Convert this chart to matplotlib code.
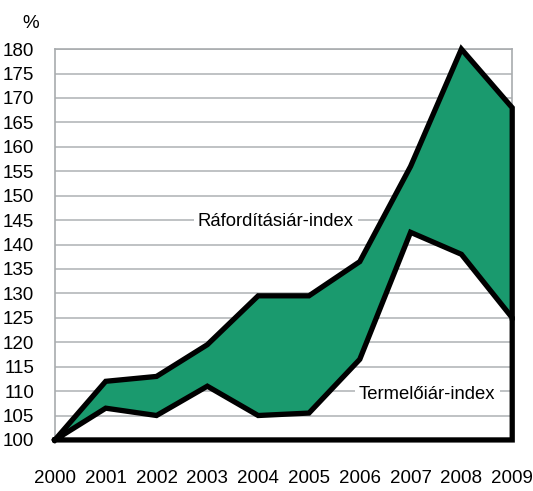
import matplotlib.pyplot as plt
import numpy as np

plt.rcParams['font.family'] = ['Liberation Sans', 'DejaVu Sans']

years = [2000, 2001, 2002, 2003, 2004, 2005, 2006, 2007, 2008, 2009]
raforditasi = [100, 112, 113, 119.5, 129.5, 129.5, 136.5, 156, 180, 168]
termeloi = [100, 106.5, 105, 111, 105, 105.5, 116.5, 142.5, 138, 125]
yticks = list(range(100, 181, 5))

green = '#1a9a6e'
fig = plt.figure(figsize=(5.33, 4.91), dpi=100)
ax = fig.add_axes([0.103, 0.104, 0.858, 0.796])

x = np.array(years)
up = np.array(raforditasi)
lo = np.array(termeloi)

ax.fill_between(x, lo, up, color=green, zorder=2)
lw = 3.8
# outline of upper (green) area
ax.plot(np.r_[x, x[-1]], np.r_[up, lo[-1]], color='black', lw=lw, zorder=3,
        solid_joinstyle='miter', clip_on=False)
# outline of lower (white) area
ax.plot(np.r_[x, x[-1], x[0]], np.r_[lo, 100, 100], color='black', lw=lw,
        zorder=3, solid_joinstyle='miter', clip_on=False)

ax.set_xlim(2000, 2009)
ax.set_ylim(100, 180)
ax.set_yticks(yticks)
ax.set_xticks(years)
ax.grid(axis='y', color='#b4b7ba', lw=1.2, zorder=1)
ax.tick_params(length=0, labelsize=13.5)
ax.tick_params(axis='x', pad=22)
ax.tick_params(axis='y', pad=15)
for s in ax.spines.values():
    s.set_color('#a8abae')
    s.set_linewidth(1.2)

bbox = dict(facecolor='white', edgecolor='none', pad=3)
ax.text(2004.35, 144.8, 'Ráfordításiár-index', ha='center', va='center',
        fontsize=13.3, bbox=bbox, zorder=4)
ax.text(2007.33, 109.2, 'Termelőiár-index', ha='center', va='center',
        fontsize=13.3, bbox=bbox, zorder=4)
fig.text(0.058, 0.952, '%', ha='center', va='center', fontsize=13.5)

fig.savefig('out.png', dpi=100)
